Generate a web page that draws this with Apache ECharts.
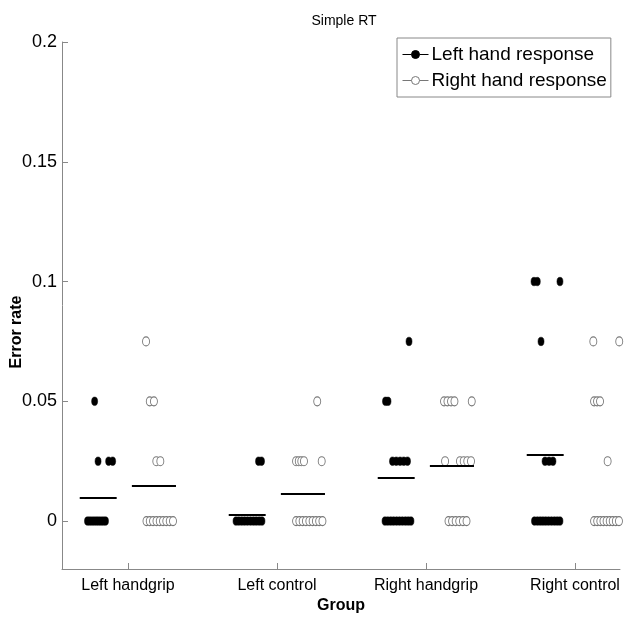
<!DOCTYPE html>
<html>
<head>
<meta charset="utf-8">
<script src="https://cdn.jsdelivr.net/npm/echarts@6/dist/echarts.min.js"></script>
<style>
html,body{margin:0;padding:0;background:#fff;}
#chart{width:624px;height:620px;}
</style>
</head>
<body>
<div id="chart"></div>
<script>
// ---- data ----
const groups = ['Left handgrip', 'Left control', 'Right handgrip', 'Right control'];
const groupPositions = [1, 2, 3, 4];
const yTickValues = [0, 0.05, 0.1, 0.15, 0.2];
const yTickLabels = ['0', '0.05', '0.1', '0.15', '0.2'];
const seriesNames = ['Left hand response', 'Right hand response'];

// individual subjects (x = group position + spread offset, y = error rate)
const leftHandX = [
  0.776, 0.799, 0.870, 0.897,
  0.728, 0.743, 0.758, 0.773, 0.789, 0.804, 0.819, 0.834, 0.849,
  1.876, 1.896,
  1.725, 1.744, 1.764, 1.783, 1.802, 1.822, 1.841, 1.860, 1.880, 1.899,
  2.886, 2.728, 2.745,
  2.775, 2.800, 2.826, 2.851, 2.876,
  2.725, 2.744, 2.764, 2.783, 2.803, 2.822, 2.841, 2.861, 2.880, 2.899,
  3.725, 3.747, 3.899, 3.772,
  3.799, 3.826, 3.852,
  3.728, 3.747, 3.766, 3.785, 3.804, 3.823, 3.842, 3.861, 3.880, 3.899
];
const leftHandY = [
  0.05, 0.025, 0.025, 0.025,
  0, 0, 0, 0, 0, 0, 0, 0, 0,
  0.025, 0.025,
  0, 0, 0, 0, 0, 0, 0, 0, 0, 0,
  0.075, 0.05, 0.05,
  0.025, 0.025, 0.025, 0.025, 0.025,
  0, 0, 0, 0, 0, 0, 0, 0, 0, 0,
  0.1, 0.1, 0.1, 0.075,
  0.025, 0.025, 0.025,
  0, 0, 0, 0, 0, 0, 0, 0, 0, 0
];
const rightHandX = [
  1.121, 1.146, 1.174, 1.190, 1.217,
  1.124, 1.146, 1.168, 1.191, 1.213, 1.235, 1.257, 1.280, 1.302,
  2.270, 2.128, 2.146, 2.163, 2.181, 2.300,
  2.128, 2.150, 2.172, 2.194, 2.217, 2.239, 2.261, 2.283, 2.305,
  3.121, 3.144, 3.168, 3.191, 3.307,
  3.128, 3.228, 3.253, 3.277, 3.302,
  3.151, 3.175, 3.199, 3.223, 3.248, 3.272,
  4.123, 4.297, 4.128, 4.148, 4.168, 4.219,
  4.128, 4.149, 4.170, 4.191, 4.212, 4.233, 4.253, 4.274, 4.295
];
const rightHandY = [
  0.075, 0.05, 0.05, 0.025, 0.025,
  0, 0, 0, 0, 0, 0, 0, 0, 0,
  0.05, 0.025, 0.025, 0.025, 0.025, 0.025,
  0, 0, 0, 0, 0, 0, 0, 0, 0,
  0.05, 0.05, 0.05, 0.05, 0.05,
  0.025, 0.025, 0.025, 0.025, 0.025,
  0, 0, 0, 0, 0, 0,
  0.075, 0.075, 0.05, 0.05, 0.05, 0.025,
  0, 0, 0, 0, 0, 0, 0, 0, 0
];
// group means (horizontal bars)
const leftHandMeans = [0.0097, 0.0028, 0.0182, 0.0276];
const rightHandMeans = [0.0146, 0.0113, 0.0230, 0.0199];

// ---- build ----
const FONT = '"Liberation Sans", Arial, Helvetica, sans-serif';
function zip(xs, ys) { return xs.map((x, i) => [x, ys[i]]); }
function meanLines(means, center, half) {
  return means.map((m, i) => [
    { coord: [groupPositions[i] + center - half, m] },
    { coord: [groupPositions[i] + center + half, m] }
  ]);
}
const meanLineStyle = { color: '#000', width: 2, type: 'solid' };
const legendIcon = 'path://M0,4L9,4M17,4L26,4M9,4A4,4,0,1,1,17,4A4,4,0,1,1,9,4Z';

const chart = echarts.init(document.getElementById('chart'), null, { renderer: 'canvas' });
chart.setOption({
  animation: false,
  backgroundColor: '#fff',
  title: {
    text: 'Simple RT',
    left: 339, top: 9, textAlign: 'center',
    textStyle: { fontFamily: FONT, fontSize: 14, fontWeight: 'normal', color: '#000' }
  },
  legend: {
    orient: 'vertical',
    left: 397, top: 38,
    backgroundColor: '#fff',
    borderColor: '#888', borderWidth: 1,
    padding: [5, 4, 5, 5],
    itemGap: 3,
    itemWidth: 26, itemHeight: 8,
    textStyle: { fontFamily: FONT, fontSize: 19, lineHeight: 23, color: '#000', padding: [0, 0, 0, -2] },
    data: [
      { name: seriesNames[0], icon: legendIcon,
        itemStyle: { color: '#000', borderColor: '#000', borderWidth: 1 } },
      { name: seriesNames[1], icon: legendIcon,
        itemStyle: { color: '#fff', borderColor: '#777', borderWidth: 1 } }
    ]
  },
  grid: { left: 62, top: 42, width: 558, height: 527, containLabel: false, outerBoundsMode: 'none' },
  xAxis: {
    type: 'value',
    min: 0.557, max: 4.302,
    name: 'Group',
    nameLocation: 'middle', nameGap: 29, nameMoveOverlap: false,
    nameTextStyle: { fontFamily: FONT, fontSize: 16, fontWeight: 'bold', color: '#000' },
    axisLine: { show: true, onZero: false, lineStyle: { color: '#888', width: 1 } },
    axisTick: { show: true, inside: true, length: 6, customValues: groupPositions, lineStyle: { color: '#888' } },
    axisLabel: {
      customValues: groupPositions, margin: 9,
      fontFamily: FONT, fontSize: 16, color: '#000',
      formatter: v => groups[Math.round(v) - 1] || ''
    },
    splitLine: { show: false }
  },
  yAxis: {
    type: 'value',
    min: -0.02, max: 0.2,
    name: 'Error rate',
    nameLocation: 'middle', nameGap: 37, nameRotate: 90, nameMoveOverlap: false,
    nameTextStyle: { fontFamily: FONT, fontSize: 16, fontWeight: 'bold', color: '#000', padding: [0, 53, 0, 0] },
    axisLine: { show: true, onZero: false, lineStyle: { color: '#888', width: 1 } },
    axisTick: { show: true, inside: true, length: 6, customValues: yTickValues, lineStyle: { color: '#888' } },
    axisLabel: {
      customValues: yTickValues, margin: 5,
      fontFamily: FONT, fontSize: 18, color: '#000',
      formatter: v => { const i = yTickValues.findIndex(t => Math.abs(t - v) < 1e-9); return i >= 0 ? yTickLabels[i] : ''; }
    },
    splitLine: { show: false }
  },
  series: [
    {
      name: seriesNames[0], type: 'scatter', clip: false,
      symbol: 'circle', symbolSize: [6, 8.5],
      itemStyle: { color: '#000', borderColor: '#000', borderWidth: 0.5, opacity: 1 },
      data: zip(leftHandX, leftHandY),
      markLine: { silent: true, symbol: 'none', label: { show: false }, lineStyle: meanLineStyle,
        data: meanLines(leftHandMeans, -0.2, 0.124) }
    },
    {
      name: seriesNames[1], type: 'scatter', clip: false,
      symbol: 'circle', symbolSize: [7, 9],
      itemStyle: { color: '#fff', borderColor: '#777', borderWidth: 1, opacity: 1 },
      data: zip(rightHandX, rightHandY),
      markLine: { silent: true, symbol: 'none', label: { show: false }, lineStyle: meanLineStyle,
        data: meanLines(rightHandMeans, 0.174, 0.148) }
    }
  ]
});
</script>
</body>
</html>
